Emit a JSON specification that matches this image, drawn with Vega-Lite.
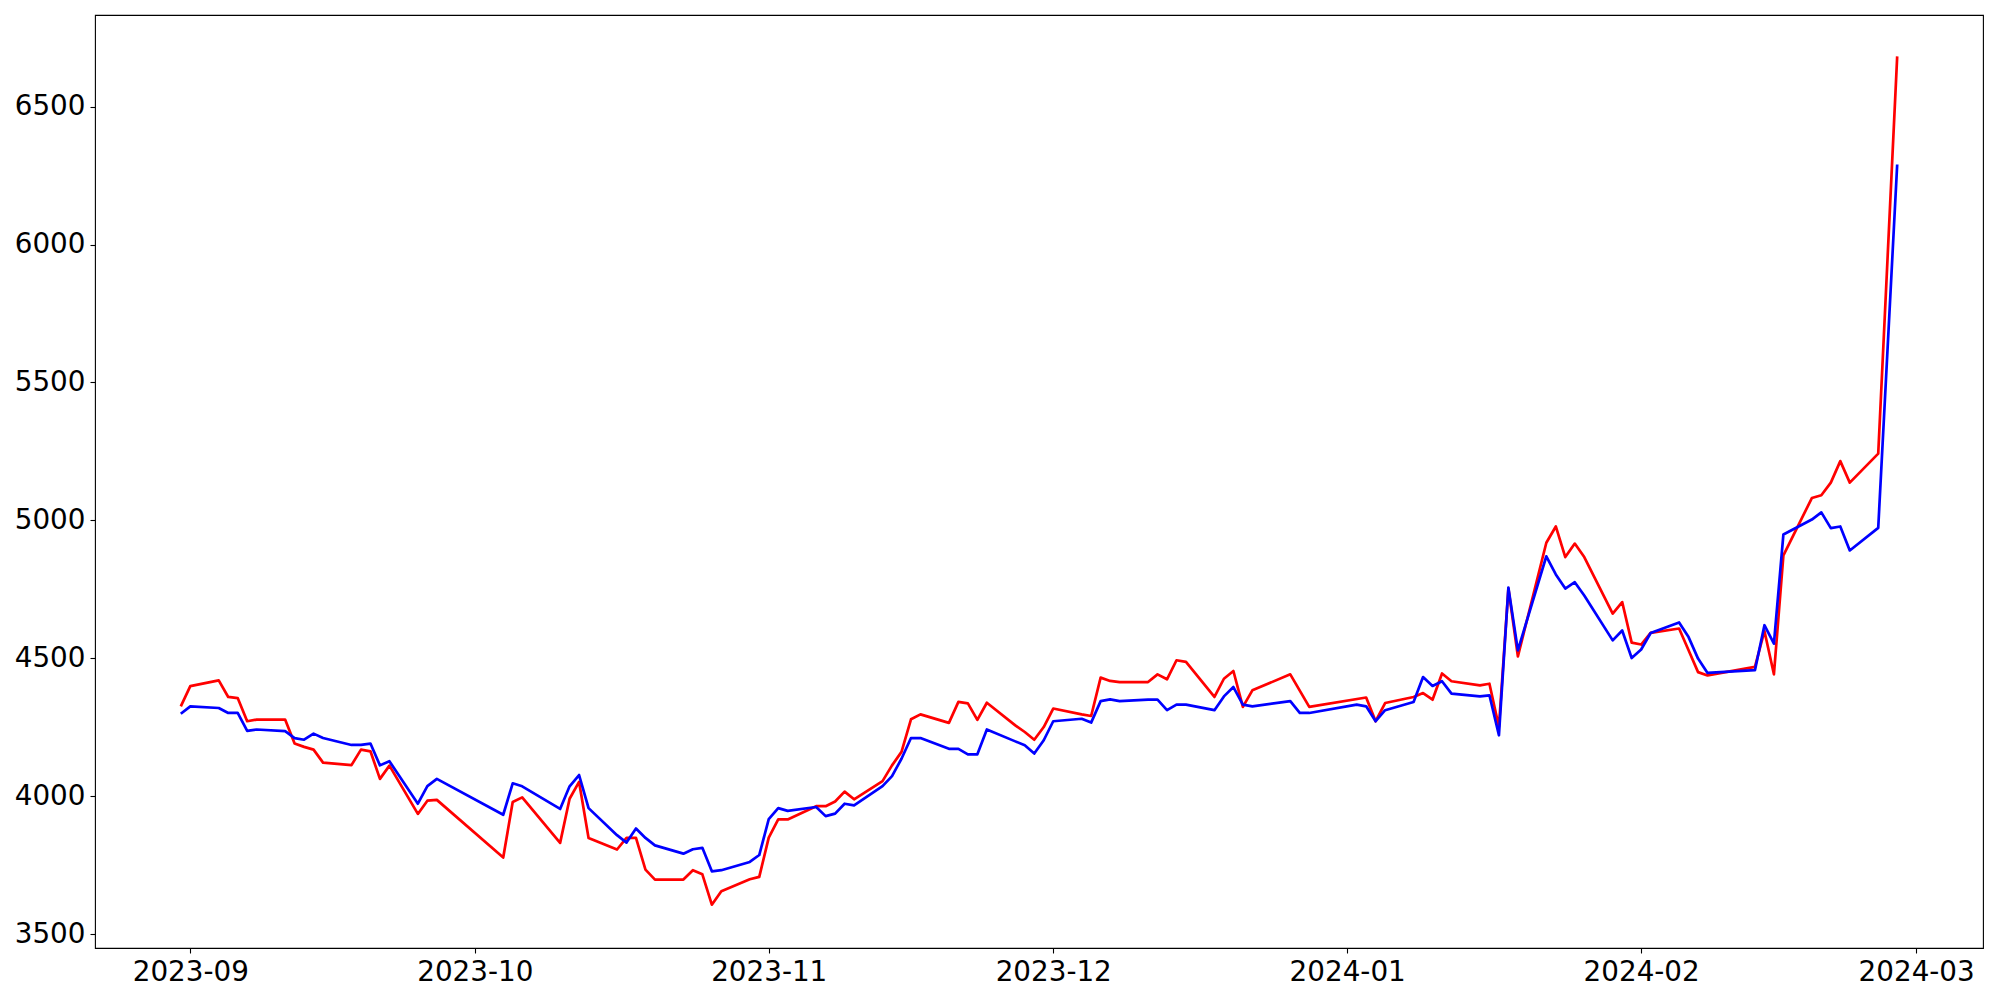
{
  "$schema": "https://vega.github.io/schema/vega-lite/v6.json",
  "autosize": {"type": "none"},
  "width": 1888,
  "height": 933,
  "padding": {"left": 95, "top": 15, "right": 17, "bottom": 52},
  "background": "white",
  "config": {
    "view": {"stroke": "black", "strokeWidth": 1.1},
    "axis": {"grid": false, "domain": false, "ticks": true, "tickColor": "black", "tickSize": 5, "tickWidth": 1.1, "labelFont": "DejaVu Sans", "labelFontSize": 27.8, "labelColor": "black", "labelPadding": 5, "title": null}
  },
  "data": {"values": [
    {"d":"2023-08-31","s":"A","v":4326},{"d":"2023-09-01","s":"A","v":4399},{"d":"2023-09-04","s":"A","v":4420},{"d":"2023-09-05","s":"A","v":4360},{"d":"2023-09-06","s":"A","v":4356},{"d":"2023-09-07","s":"A","v":4272},{"d":"2023-09-08","s":"A","v":4278},{"d":"2023-09-11","s":"A","v":4278},{"d":"2023-09-12","s":"A","v":4191},{"d":"2023-09-13","s":"A","v":4179},{"d":"2023-09-14","s":"A","v":4169},{"d":"2023-09-15","s":"A","v":4122},{"d":"2023-09-18","s":"A","v":4113},{"d":"2023-09-19","s":"A","v":4169},{"d":"2023-09-20","s":"A","v":4163},{"d":"2023-09-21","s":"A","v":4063},{"d":"2023-09-22","s":"A","v":4111},{"d":"2023-09-25","s":"A","v":3936},{"d":"2023-09-26","s":"A","v":3984},{"d":"2023-09-27","s":"A","v":3987},{"d":"2023-10-04","s":"A","v":3778},{"d":"2023-10-05","s":"A","v":3979},{"d":"2023-10-06","s":"A","v":3996},{"d":"2023-10-10","s":"A","v":3831},{"d":"2023-10-11","s":"A","v":3991},{"d":"2023-10-12","s":"A","v":4052},{"d":"2023-10-13","s":"A","v":3849},{"d":"2023-10-16","s":"A","v":3807},{"d":"2023-10-17","s":"A","v":3849},{"d":"2023-10-18","s":"A","v":3849},{"d":"2023-10-19","s":"A","v":3734},{"d":"2023-10-20","s":"A","v":3698},{"d":"2023-10-23","s":"A","v":3698},{"d":"2023-10-24","s":"A","v":3732},{"d":"2023-10-25","s":"A","v":3717},{"d":"2023-10-26","s":"A","v":3607},{"d":"2023-10-27","s":"A","v":3656},{"d":"2023-10-30","s":"A","v":3699},{"d":"2023-10-31","s":"A","v":3708},{"d":"2023-11-01","s":"A","v":3850},{"d":"2023-11-02","s":"A","v":3916},{"d":"2023-11-03","s":"A","v":3916},{"d":"2023-11-06","s":"A","v":3964},{"d":"2023-11-07","s":"A","v":3964},{"d":"2023-11-08","s":"A","v":3981},{"d":"2023-11-09","s":"A","v":4017},{"d":"2023-11-10","s":"A","v":3989},{"d":"2023-11-13","s":"A","v":4055},{"d":"2023-11-14","s":"A","v":4112},{"d":"2023-11-15","s":"A","v":4161},{"d":"2023-11-16","s":"A","v":4279},{"d":"2023-11-17","s":"A","v":4297},{"d":"2023-11-20","s":"A","v":4266},{"d":"2023-11-21","s":"A","v":4342},{"d":"2023-11-22","s":"A","v":4337},{"d":"2023-11-23","s":"A","v":4277},{"d":"2023-11-24","s":"A","v":4339},{"d":"2023-11-27","s":"A","v":4257},{"d":"2023-11-28","s":"A","v":4233},{"d":"2023-11-29","s":"A","v":4205},{"d":"2023-11-30","s":"A","v":4251},{"d":"2023-12-01","s":"A","v":4318},{"d":"2023-12-04","s":"A","v":4297},{"d":"2023-12-05","s":"A","v":4291},{"d":"2023-12-06","s":"A","v":4430},{"d":"2023-12-07","s":"A","v":4418},{"d":"2023-12-08","s":"A","v":4414},{"d":"2023-12-11","s":"A","v":4414},{"d":"2023-12-12","s":"A","v":4442},{"d":"2023-12-13","s":"A","v":4424},{"d":"2023-12-14","s":"A","v":4493},{"d":"2023-12-15","s":"A","v":4487},{"d":"2023-12-18","s":"A","v":4360},{"d":"2023-12-19","s":"A","v":4426},{"d":"2023-12-20","s":"A","v":4454},{"d":"2023-12-21","s":"A","v":4324},{"d":"2023-12-22","s":"A","v":4384},{"d":"2023-12-26","s":"A","v":4442},{"d":"2023-12-28","s":"A","v":4324},{"d":"2024-01-03","s":"A","v":4358},{"d":"2024-01-04","s":"A","v":4272},{"d":"2024-01-05","s":"A","v":4338},{"d":"2024-01-08","s":"A","v":4360},{"d":"2024-01-09","s":"A","v":4374},{"d":"2024-01-10","s":"A","v":4350},{"d":"2024-01-11","s":"A","v":4445},{"d":"2024-01-12","s":"A","v":4417},{"d":"2024-01-15","s":"A","v":4402},{"d":"2024-01-16","s":"A","v":4408},{"d":"2024-01-17","s":"A","v":4251},{"d":"2024-01-18","s":"A","v":4753},{"d":"2024-01-19","s":"A","v":4507},{"d":"2024-01-22","s":"A","v":4919},{"d":"2024-01-23","s":"A","v":4978},{"d":"2024-01-24","s":"A","v":4867},{"d":"2024-01-25","s":"A","v":4916},{"d":"2024-01-26","s":"A","v":4867},{"d":"2024-01-29","s":"A","v":4662},{"d":"2024-01-30","s":"A","v":4704},{"d":"2024-01-31","s":"A","v":4557},{"d":"2024-02-01","s":"A","v":4550},{"d":"2024-02-02","s":"A","v":4592},{"d":"2024-02-05","s":"A","v":4608},{"d":"2024-02-06","s":"A","v":4529},{"d":"2024-02-07","s":"A","v":4450},{"d":"2024-02-08","s":"A","v":4438},{"d":"2024-02-13","s":"A","v":4469},{"d":"2024-02-14","s":"A","v":4599},{"d":"2024-02-15","s":"A","v":4442},{"d":"2024-02-16","s":"A","v":4873},{"d":"2024-02-19","s":"A","v":5081},{"d":"2024-02-20","s":"A","v":5091},{"d":"2024-02-21","s":"A","v":5137},{"d":"2024-02-22","s":"A","v":5215},{"d":"2024-02-23","s":"A","v":5137},{"d":"2024-02-26","s":"A","v":5242},{"d":"2024-02-28","s":"A","v":6682},
    {"d":"2023-08-31","s":"B","v":4299},{"d":"2023-09-01","s":"B","v":4326},{"d":"2023-09-04","s":"B","v":4320},{"d":"2023-09-05","s":"B","v":4302},{"d":"2023-09-06","s":"B","v":4302},{"d":"2023-09-07","s":"B","v":4237},{"d":"2023-09-08","s":"B","v":4242},{"d":"2023-09-11","s":"B","v":4236},{"d":"2023-09-12","s":"B","v":4211},{"d":"2023-09-13","s":"B","v":4205},{"d":"2023-09-14","s":"B","v":4227},{"d":"2023-09-15","s":"B","v":4211},{"d":"2023-09-18","s":"B","v":4186},{"d":"2023-09-19","s":"B","v":4186},{"d":"2023-09-20","s":"B","v":4191},{"d":"2023-09-21","s":"B","v":4112},{"d":"2023-09-22","s":"B","v":4127},{"d":"2023-09-25","s":"B","v":3973},{"d":"2023-09-26","s":"B","v":4037},{"d":"2023-09-27","s":"B","v":4063},{"d":"2023-10-04","s":"B","v":3933},{"d":"2023-10-05","s":"B","v":4047},{"d":"2023-10-06","s":"B","v":4036},{"d":"2023-10-10","s":"B","v":3954},{"d":"2023-10-11","s":"B","v":4036},{"d":"2023-10-12","s":"B","v":4077},{"d":"2023-10-13","s":"B","v":3957},{"d":"2023-10-16","s":"B","v":3859},{"d":"2023-10-17","s":"B","v":3832},{"d":"2023-10-18","s":"B","v":3883},{"d":"2023-10-19","s":"B","v":3849},{"d":"2023-10-20","s":"B","v":3822},{"d":"2023-10-23","s":"B","v":3792},{"d":"2023-10-24","s":"B","v":3808},{"d":"2023-10-25","s":"B","v":3813},{"d":"2023-10-26","s":"B","v":3728},{"d":"2023-10-27","s":"B","v":3732},{"d":"2023-10-30","s":"B","v":3762},{"d":"2023-10-31","s":"B","v":3787},{"d":"2023-11-01","s":"B","v":3917},{"d":"2023-11-02","s":"B","v":3957},{"d":"2023-11-03","s":"B","v":3947},{"d":"2023-11-06","s":"B","v":3961},{"d":"2023-11-07","s":"B","v":3928},{"d":"2023-11-08","s":"B","v":3937},{"d":"2023-11-09","s":"B","v":3973},{"d":"2023-11-10","s":"B","v":3967},{"d":"2023-11-13","s":"B","v":4037},{"d":"2023-11-14","s":"B","v":4073},{"d":"2023-11-15","s":"B","v":4136},{"d":"2023-11-16","s":"B","v":4211},{"d":"2023-11-17","s":"B","v":4211},{"d":"2023-11-20","s":"B","v":4172},{"d":"2023-11-21","s":"B","v":4172},{"d":"2023-11-22","s":"B","v":4152},{"d":"2023-11-23","s":"B","v":4152},{"d":"2023-11-24","s":"B","v":4242},{"d":"2023-11-27","s":"B","v":4199},{"d":"2023-11-28","s":"B","v":4185},{"d":"2023-11-29","s":"B","v":4155},{"d":"2023-11-30","s":"B","v":4203},{"d":"2023-12-01","s":"B","v":4272},{"d":"2023-12-04","s":"B","v":4281},{"d":"2023-12-05","s":"B","v":4267},{"d":"2023-12-06","s":"B","v":4345},{"d":"2023-12-07","s":"B","v":4351},{"d":"2023-12-08","s":"B","v":4345},{"d":"2023-12-11","s":"B","v":4350},{"d":"2023-12-12","s":"B","v":4350},{"d":"2023-12-13","s":"B","v":4312},{"d":"2023-12-14","s":"B","v":4332},{"d":"2023-12-15","s":"B","v":4332},{"d":"2023-12-18","s":"B","v":4312},{"d":"2023-12-19","s":"B","v":4362},{"d":"2023-12-20","s":"B","v":4396},{"d":"2023-12-21","s":"B","v":4332},{"d":"2023-12-22","s":"B","v":4326},{"d":"2023-12-26","s":"B","v":4345},{"d":"2023-12-27","s":"B","v":4302},{"d":"2023-12-28","s":"B","v":4302},{"d":"2024-01-02","s":"B","v":4332},{"d":"2024-01-03","s":"B","v":4326},{"d":"2024-01-04","s":"B","v":4272},{"d":"2024-01-05","s":"B","v":4312},{"d":"2024-01-08","s":"B","v":4342},{"d":"2024-01-09","s":"B","v":4432},{"d":"2024-01-10","s":"B","v":4400},{"d":"2024-01-11","s":"B","v":4417},{"d":"2024-01-12","s":"B","v":4372},{"d":"2024-01-15","s":"B","v":4362},{"d":"2024-01-16","s":"B","v":4366},{"d":"2024-01-17","s":"B","v":4221},{"d":"2024-01-18","s":"B","v":4756},{"d":"2024-01-19","s":"B","v":4529},{"d":"2024-01-22","s":"B","v":4870},{"d":"2024-01-23","s":"B","v":4804},{"d":"2024-01-24","s":"B","v":4753},{"d":"2024-01-25","s":"B","v":4776},{"d":"2024-01-26","s":"B","v":4728},{"d":"2024-01-29","s":"B","v":4565},{"d":"2024-01-30","s":"B","v":4601},{"d":"2024-01-31","s":"B","v":4501},{"d":"2024-02-01","s":"B","v":4532},{"d":"2024-02-02","s":"B","v":4592},{"d":"2024-02-05","s":"B","v":4630},{"d":"2024-02-06","s":"B","v":4577},{"d":"2024-02-07","s":"B","v":4499},{"d":"2024-02-08","s":"B","v":4447},{"d":"2024-02-13","s":"B","v":4457},{"d":"2024-02-14","s":"B","v":4620},{"d":"2024-02-15","s":"B","v":4553},{"d":"2024-02-16","s":"B","v":4949},{"d":"2024-02-19","s":"B","v":5003},{"d":"2024-02-20","s":"B","v":5029},{"d":"2024-02-21","s":"B","v":4972},{"d":"2024-02-22","s":"B","v":4978},{"d":"2024-02-23","s":"B","v":4891},{"d":"2024-02-26","s":"B","v":4973},{"d":"2024-02-28","s":"B","v":6290}
  ]},
  "mark": {"type": "line", "strokeWidth": 2.7, "strokeJoin": "round", "clip": true},
  "encoding": {
    "x": {
      "field": "d", "type": "temporal",
      "scale": {"type": "utc", "domain": [
        {"year": 2023, "month": 8, "date": 21, "hours": 22, "minutes": 50, "utc": true},
        {"year": 2024, "month": 3, "date": 8, "hours": 1, "minutes": 10, "utc": true}
      ]},
      "axis": {
        "format": "%Y-%m",
        "values": [
          {"year": 2023, "month": 9, "date": 1, "utc": true},
          {"year": 2023, "month": 10, "date": 1, "utc": true},
          {"year": 2023, "month": 11, "date": 1, "utc": true},
          {"year": 2023, "month": 12, "date": 1, "utc": true},
          {"year": 2024, "month": 1, "date": 1, "utc": true},
          {"year": 2024, "month": 2, "date": 1, "utc": true},
          {"year": 2024, "month": 3, "date": 1, "utc": true}
        ],
        "labelFlush": false, "labelOverlap": false
      }
    },
    "y": {
      "field": "v", "type": "quantitative",
      "scale": {"domain": [3450, 6832], "nice": false, "zero": false},
      "axis": {"values": [3500, 4000, 4500, 5000, 5500, 6000, 6500], "format": "d", "labelFlush": false}
    },
    "color": {
      "field": "s", "type": "nominal",
      "scale": {"domain": ["A", "B"], "range": ["#ff0000", "#0000ff"]},
      "legend": null
    }
  }
}
